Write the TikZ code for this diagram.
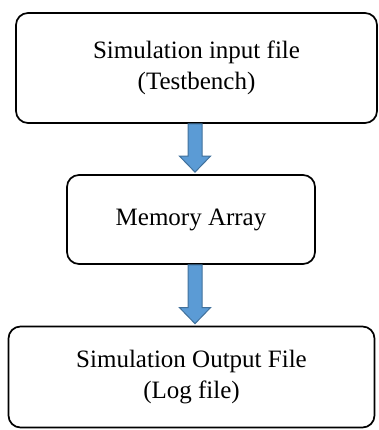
\documentclass[tikz,border=0pt]{standalone}
\usepackage{fontspec}
\setmainfont{Liberation Serif}
\usetikzlibrary{calc}

\definecolor{arrowfill}{HTML}{5B9BD5}
\definecolor{arrowline}{HTML}{41719C}

\tikzset{
  flowbox/.style = {draw = black, line width = 1.7pt, rounded corners = 12pt,
    align = center, inner sep = 0pt, font = \fontsize{25}{31}\selectfont},
  fatarrow/.style = {fill = arrowfill, draw = arrowline, line width = 1pt}
}

\begin{document}
\begin{tikzpicture}[x = 1pt, y = 1pt]
  \useasboundingbox (0, 0) rectangle (379, 430);

  \node[flowbox, minimum width = 361pt, minimum height = 110pt] (inp) at (196.5, 362)
  {Simulation input file\\(Testbench)};
  \node[flowbox, minimum width = 248pt, minimum height = 89pt] (mem) at (191, 210.5)
  {Memory Array};
  \node[flowbox, minimum width = 366pt, minimum height = 101pt] (out) at (191.5, 53)
  {Simulation Output File\\(Log file)};

  \pgfmathsetmacro{\sW}{7}
  \pgfmathsetmacro{\hW}{15.5}
  \pgfmathsetmacro{\hL}{16}
  \coordinate (ax) at (195, 0);

  \foreach \a/\b in {inp/mem, mem/out}{
    \draw[fatarrow] ($(\a.south -| ax) + (-\sW, 0)$) --
    ($(\b.north -| ax) + (-\sW, \hL + 2)$) -- ($(\b.north -| ax) + (-\hW, \hL + 2)$) --
    ($(\b.north -| ax) + (0, 2)$) -- ($(\b.north -| ax) + (\hW, \hL + 2)$) --
    ($(\b.north -| ax) + (\sW, \hL + 2)$) -- ($(\a.south -| ax) + (\sW, 0)$) -- cycle;
  }
\end{tikzpicture}
\end{document}
